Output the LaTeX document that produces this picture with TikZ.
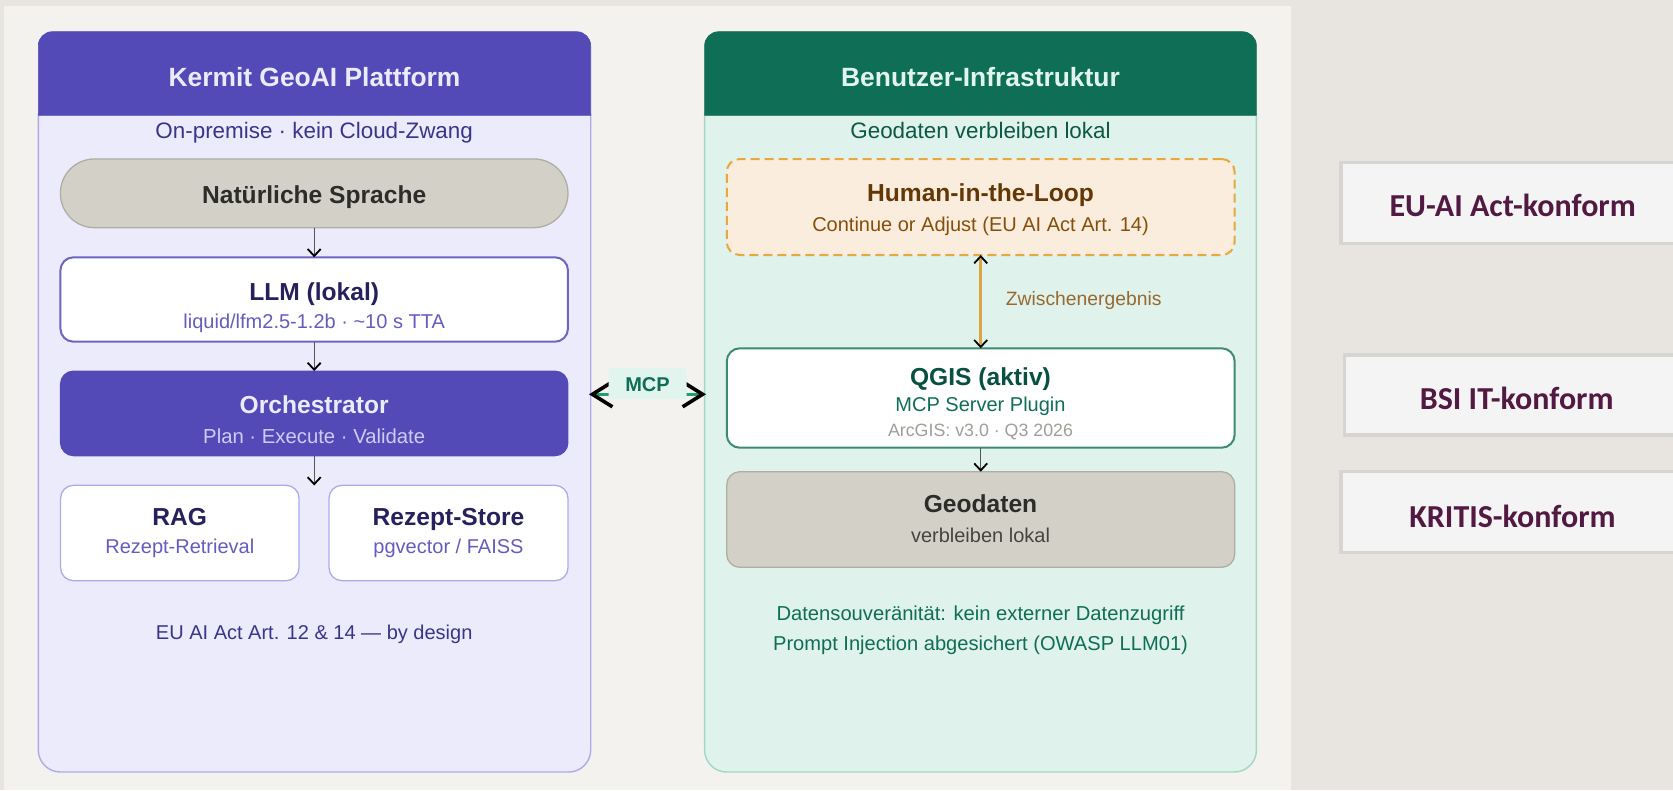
\documentclass[tikz,border=0pt]{standalone}
\usepackage{fontspec}
\setmainfont{Liberation Sans}
\newfontfamily\carlitofont{Carlito}
\usetikzlibrary{arrows.meta}
\definecolor{outerbg}{HTML}{E8E4DF}
\definecolor{innerbg}{HTML}{F3F2EE}
\definecolor{pur}{HTML}{534AB7}
\definecolor{purbody}{HTML}{ECEBFC}
\definecolor{purline}{HTML}{AFA9EC}
\definecolor{purdark}{HTML}{26215C}
\definecolor{pursub}{HTML}{3C3489}
\definecolor{purlight}{HTML}{CECBF6}
\definecolor{grn}{HTML}{0F6E56}
\definecolor{grnbody}{HTML}{DFF2EB}
\definecolor{grnline}{HTML}{9FD8C4}
\definecolor{grndark}{HTML}{085041}
\definecolor{grnhead}{HTML}{E1F5EE}
\definecolor{grnstroke}{HTML}{3D8C72}
\definecolor{grnarrow}{HTML}{1D9E75}
\definecolor{sand}{HTML}{D3D1C7}
\definecolor{sandline}{HTML}{B0ADA4}
\definecolor{inkdark}{HTML}{2C2C2A}
\definecolor{inksub}{HTML}{444441}
\definecolor{inkgray}{HTML}{A09E98}
\definecolor{orfill}{HTML}{FBEDDD}
\definecolor{orline}{HTML}{E8A83E}
\definecolor{ordark}{HTML}{633806}
\definecolor{ormid}{HTML}{854F0B}
\definecolor{orarrow}{HTML}{DBA53F}
\definecolor{badgefill}{HTML}{F4F4F4}
\definecolor{badgeline}{HTML}{D6D5D3}
\definecolor{badgetext}{HTML}{521A42}
\definecolor{arrowgray}{HTML}{555552}
\tikzset{
  x=1pt,y=-1pt,
  nd/.style={inner sep=0pt,outer sep=0pt,line width=#1},
  nd/.default=1.5pt,
  txt/.style={anchor=base,inner sep=0pt,outer sep=0pt,align=center},
  fs/.style={font=\fontsize{#1}{#1}\selectfont},
  fsb/.style={font=\fontsize{#1}{#1}\selectfont\bfseries},
  card/.style={rectangle,rounded corners=13pt,inner sep=0pt,outer sep=0pt},
  flow/.style={draw=arrowgray,line width=1.4pt,-{Straight Barb[length=7pt,width=13pt,line width=1.8pt,color=black]}},
  hitl/.style={draw=orarrow,line width=2.6pt,{Straight Barb[length=7pt,width=13pt,line width=1.8pt,color=black]}-{Straight Barb[length=7pt,width=13pt,line width=1.8pt,color=black]}},
  mcplink/.style={draw=grnarrow,line width=3.5pt,{Straight Barb[length=20pt,width=25pt,line width=3.6pt,color=black]}-{Straight Barb[length=20pt,width=25pt,line width=3.6pt,color=black]}},
  badge/.style={rectangle,fill=badgefill,draw=badgeline,line width=3.4pt,inner sep=0pt,outer sep=0pt},
  badgetxt/.style={txt,text=badgetext,font=\carlitofont\fontsize{32}{32}\selectfont\bfseries},
}
\begin{document}
\begin{tikzpicture}
\useasboundingbox (0,0) rectangle (1673,790);
% backgrounds
\fill[outerbg] (0,0) rectangle (1673,790);
\fill[innerbg] (4,5.7) rectangle (1291,790);
% left panel
\path[fill=purbody,draw=purline,line width=1.4pt]
  (38.3,114) [rounded corners=22pt] -- (38.3,772) -- (590.7,772) [sharp corners] -- (590.7,114) -- cycle;
\path[fill=pur,draw=pur,line width=.6pt] (38.3,115.3) [rounded corners=14pt] -- (38.3,31.7) -- (590.7,31.7) [sharp corners] -- (590.7,115.3) -- cycle;
% right panel
\path[fill=grnbody,draw=grnline,line width=1.4pt]
  (704.6,114) [rounded corners=22pt] -- (704.6,772) -- (1256.4,772) [sharp corners] -- (1256.4,114) -- cycle;
\path[fill=grn,draw=grn,line width=.6pt] (704.6,115.3) [rounded corners=14pt] -- (704.6,31.7) -- (1256.4,31.7) [sharp corners] -- (1256.4,115.3) -- cycle;
% titles
\node[txt,fsb=26.4,text=purbody] (ttlL) at (314.5,86.5) {Kermit GeoAI Plattform};
\node[txt,fsb=26.4,text=grnhead] (ttlR) at (980.5,86.5) {Benutzer-Infrastruktur};
\node[txt,fs=22.4,text=pursub] (subL) at (314.2,138.6) {On-premise · kein Cloud-Zwang};
\node[txt,fs=22.4,text=grn!80!black] (subR) at (980.5,138.6) {Geodaten verbleiben lokal};
% left nodes
\node[nd=1.3pt,card,rounded corners=34pt,fill=sand,draw=sandline,minimum width=507.5pt,minimum height=68.7pt] (lang) at (314.2,193.3) {};
\node[txt,fsb=24.6,text=inkdark] (langT) at (314.2,203.3) {Natürliche Sprache};
\node[nd=2pt,card,fill=white,draw=pur!85,minimum width=507.5pt,minimum height=84.4pt] (llm) at (314.2,299.5) {};
\node[txt,fsb=24.6,text=purdark] (llmT) at (314.2,300) {LLM (lokal)};
\node[txt,fs=20,text=pur!90] (llmS) at (314.2,328.3) {liquid/lfm2.5-1.2b · \textasciitilde10 s TTA};
\node[nd=1pt,card,fill=pur,draw=pur,minimum width=507.5pt,minimum height=84.7pt] (orch) at (314.2,413.4) {};
\node[txt,fsb=24.6,text=purbody] (orchT) at (314.2,413.3) {Orchestrator};
\node[txt,fs=20.3,text=purlight] (orchS) at (314.2,443.3) {Plan · Execute · Validate};
\node[nd=1.3pt,card,fill=white,draw=purline,minimum width=238.5pt,minimum height=95.4pt] (rag) at (179.8,533) {};
\node[txt,fsb=24.6,text=purdark] (ragT) at (179.8,525.7) {RAG};
\node[txt,fs=20,text=pur!90] (ragS) at (179.8,553.3) {Rezept-Retrieval};
\node[nd=1.3pt,card,fill=white,draw=purline,minimum width=239pt,minimum height=95.4pt] (store) at (448.5,533) {};
\node[txt,fsb=24.6,text=purdark] (storeT) at (448.5,525.7) {Rezept-Store};
\node[txt,fs=20,text=pur!90] (storeS) at (448.5,553.3) {pgvector / FAISS};
\node[txt,fs=20,text=pursub] (footL) at (314.2,639.3) {EU AI Act Art. 12 \& 14 — by design};
% right nodes
\node[nd=2pt,card,fill=orfill,draw=orline,dash pattern=on 9pt off 5pt,minimum width=507.9pt,minimum height=96pt] (human) at (980.7,207) {};
\node[txt,fsb=24.6,text=ordark] (humanT) at (980.5,201) {Human-in-the-Loop};
\node[txt,fs=20,text=ormid] (humanS) at (980.5,231) {Continue or Adjust (EU AI Act Art. 14)};
\node[nd=2pt,card,fill=white,draw=grnstroke,minimum width=507.9pt,minimum height=99.4pt] (qgis) at (980.7,398) {};
\node[txt,fsb=24.6,text=grndark] (qgisT) at (980.5,385.7) {QGIS (aktiv)};
\node[txt,fs=20,text=grn] (qgisS) at (980.5,411.7) {MCP Server Plugin};
\node[txt,fs=17.8,text=inkgray] (qgisA) at (980.5,436) {ArcGIS: v3.0 · Q3 2026};
\node[nd=1.3pt,card,fill=sand,draw=sandline,minimum width=507.9pt,minimum height=95.6pt] (geo) at (980.7,519.5) {};
\node[txt,fsb=24.6,text=inkdark] (geoT) at (980.5,512.7) {Geodaten};
\node[txt,fs=20,text=inksub] (geoS) at (980.5,542.7) {verbleiben lokal};
\node[txt,fs=20.2,text=grn] (foot1) at (980.5,620) {Datensouveränität: kein externer Datenzugriff};
\node[txt,fs=20.1,text=grn] (foot2) at (980.5,650.7) {Prompt Injection abgesichert (OWASP LLM01)};
\node[txt,fs=19.3,text=ormid!85!white] (zw) at (1083.7,305) {Zwischenergebnis};
% connectors
\draw[flow] (lang) -- (llm);
\draw[flow] (llm) -- (orch);
\coordinate (gapEnd) at (314.2,485.5);
\draw[flow] (orch) -- (gapEnd);
\draw[hitl] (human) -- (qgis);
\draw[flow] (qgis) -- (geo);
% MCP link
\coordinate (mcpL) at (589,394.3);
\coordinate (mcpR) at (706,394.3);
\draw[mcplink] (mcpL) -- (mcpR);
\node[rectangle,rounded corners=3pt,fill=grnhead,inner sep=0pt,outer sep=0pt,minimum width=78pt,minimum height=31pt] (mcpbg) at (647.5,383.5) {};
\node[txt,fsb=20,text=grn] (mcp) at (647.5,391) {MCP};
% compliance badges
\begin{scope}
\clip (0,0) rectangle (1673,790);
\node[badge,minimum width=340pt,minimum height=81pt] (b1) at (1511,202.8) {};
\node[badge,minimum width=340pt,minimum height=80pt] (b2) at (1514.4,395) {};
\node[badge,minimum width=340pt,minimum height=81pt] (b3) at (1511,512.1) {};
\end{scope}
\node[badgetxt] (b1T) at (1512.7,216.5) {EU-AI Act-konform};
\node[badgetxt] (b2T) at (1516.7,409) {BSI IT-konform};
\node[badgetxt] (b3T) at (1512.5,527) {KRITIS-konform};
\end{tikzpicture}
\end{document}
